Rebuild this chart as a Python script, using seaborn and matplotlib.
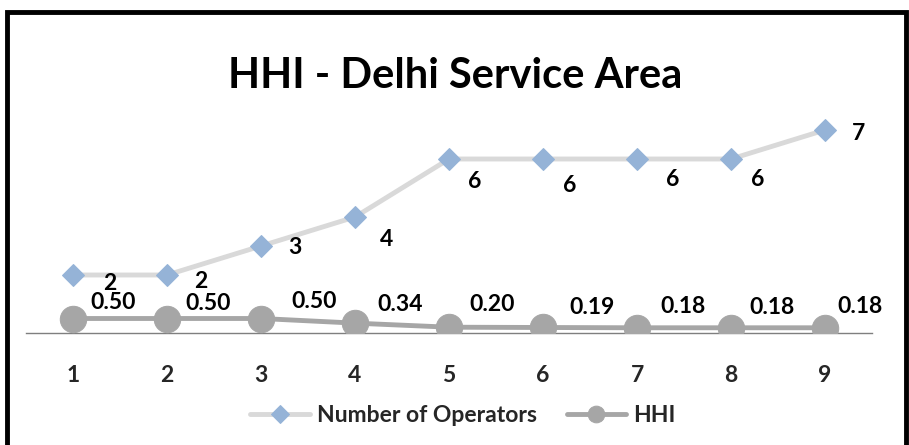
import numpy as np
import pandas as pd
import matplotlib
matplotlib.use("Agg")
import matplotlib.pyplot as plt
from matplotlib.patches import Rectangle
import seaborn as sns

# --- DATA ---
periods = [1, 2, 3, 4, 5, 6, 7, 8, 9]
num_operators = [2, 2, 3, 4, 6, 6, 6, 6, 7]
hhi = [0.50, 0.50, 0.50, 0.34, 0.20, 0.19, 0.18, 0.18, 0.18]

# label offsets (pixels) copied from the hand-placed labels in the original
ops_offsets = [(37, -8), (34, -6), (34, -2), (32, -23), (26, -23), (27, -26), (36, -20), (27, -21), (33, -3)]
hhi_offsets = [(40, 16), (41, 15), (53, 17), (45, 19), (43, 23), (49, 20), (46, 21), (41, 20), (35, 21)]

OPS_LINE = "#D9D9D9"
OPS_MARK = "#95B3D7"
HHI_GRAY = "#A6A6A6"
LABEL_SIZE = 16.5

sns.set_style("white")
plt.rcParams["font.family"] = ["Lato", "DejaVu Sans"]

fig = plt.figure(figsize=(9.09, 4.45), dpi=100)
ax = fig.add_axes([26 / 909, 1 - 333 / 445, (872 - 26) / 909, (333 - 101) / 445])

df = pd.DataFrame({"period": periods, "ops": num_operators, "hhi": hhi})

sns.lineplot(data=df, x="period", y="ops", ax=ax, color=OPS_LINE, linewidth=3.5,
             marker="D", markersize=11, markerfacecolor=OPS_MARK, markeredgecolor=OPS_MARK,
             label="Number of Operators", zorder=3)
sns.lineplot(data=df, x="period", y="hhi", ax=ax, color=HHI_GRAY, linewidth=3.5,
             marker="o", markersize=19, markerfacecolor=HHI_GRAY, markeredgecolor=HHI_GRAY,
             label="HHI", zorder=4)

for x, y, (dx, dy) in zip(periods, num_operators, ops_offsets):
    ax.annotate(f"{y}", (x, y), xytext=(dx, dy), textcoords="offset pixels",
                ha="center", va="center", fontsize=LABEL_SIZE, fontweight="bold", color="black")
for x, y, (dx, dy) in zip(periods, hhi, hhi_offsets):
    ax.annotate(f"{y:.2f}", (x, y), xytext=(dx, dy), textcoords="offset pixels",
                ha="center", va="center", fontsize=LABEL_SIZE, fontweight="bold", color="black")

ax.set_xlim(0.5, 9.5)
ax.set_ylim(0, 8)
ax.set_xticks(periods)
ax.set_xticklabels([str(p) for p in periods], fontsize=LABEL_SIZE, fontweight="bold")
ax.tick_params(axis="x", length=0, pad=23)
ax.set_yticks([])
ax.set_xlabel("")
ax.set_ylabel("")
for side in ["top", "right", "left"]:
    ax.spines[side].set_visible(False)
ax.spines["bottom"].set_color("#7F7F7F")
ax.spines["bottom"].set_linewidth(1.0)
ax.spines["bottom"].set_zorder(2)

fig.suptitle("HHI - Delhi Service Area", x=455 / 909, y=1 - 76 / 445, va="center",
             fontsize=30, fontweight="bold", color="black")

leg = ax.legend(loc="center", bbox_to_anchor=(463 / 909, 1 - 416 / 445),
                bbox_transform=fig.transFigure, ncol=2, frameon=False,
                prop={"size": LABEL_SIZE, "weight": "bold"}, handlelength=2.6,
                columnspacing=1.3, handletextpad=0.3)
leg.legend_handles[0].set_markersize(9)
leg.legend_handles[1].set_markersize(12)

# figure frame
fig.patches.append(Rectangle((7 / 909, -0.05), 899 / 909, 1.05 - 12 / 445,
                             transform=fig.transFigure, fill=False,
                             edgecolor="black", linewidth=3.5, zorder=10))

fig.savefig("out.png", dpi=100)
